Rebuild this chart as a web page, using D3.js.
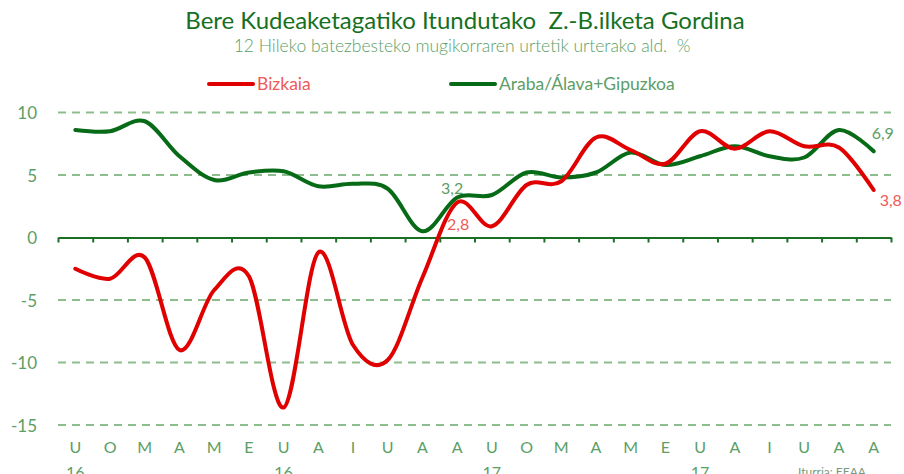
<!DOCTYPE html>
<html>
<head>
<meta charset="utf-8">
<script src="https://cdn.jsdelivr.net/npm/d3@7"></script>
<style>
  body { margin: 0; background: #fff; }
  svg { font-family: Lato, 'Open Sans', sans-serif; }
  .grid line { stroke: #8dbd8d; stroke-width: 2; stroke-dasharray: 8 6; }
  .ylab text { fill: #5b9e66; font-size: 17px; }
  .xlab { fill: #5b9e66; font-size: 16px; }
</style>
</head>
<body>
<svg width="904" height="474"></svg>
<script>
const months = ['U', 'O', 'M', 'A', 'M', 'E', 'U', 'A', 'I', 'U', 'A', 'A',
  'U', 'O', 'M', 'A', 'M', 'E', 'U', 'A', 'I', 'U', 'A', 'A'];
const years = ['16', '', '', '', '', '', '16', '', '', '', '', '',
  '17', '', '', '', '', '', '17', '', '', '', '', ''];
const bizkaia = [-2.5, -3.3, -1.6, -9.0, -4.2, -3.1, -13.6, -1.2, -8.6, -9.8, -3.2, 2.8,
  0.9, 4.2, 4.5, 8.0, 7.0, 5.9, 8.5, 7.1, 8.5, 7.3, 7.2, 3.8];
const arabaGipuzkoa = [8.6, 8.5, 9.3, 6.5, 4.6, 5.2, 5.3, 4.1, 4.3, 3.9, 0.5, 3.2,
  3.4, 5.2, 4.8, 5.2, 6.8, 5.8, 6.5, 7.3, 6.5, 6.4, 8.6, 6.9];
const yTicks = [-15, -10, -5, 0, 5, 10];

const svg = d3.select('svg');

const left = 58, right = 891;

const x = d3.scaleBand()
  .domain(d3.range(months.length))
  .range([left, right]);

const xEdge = d3.scaleLinear()
  .domain([0, months.length])
  .range([left, right]);

const y = d3.scaleLinear()
  .domain([-15, 10])
  .range([425, 112.5]);

const cx = (i) => x(i) + x.bandwidth() / 2;
const fmt = (v) => d3.format('.1f')(v).replace('.', ',');

// titles
svg.append('text')
  .attr('x', 465).attr('y', 29)
  .attr('text-anchor', 'middle')
  .attr('fill', '#17701f')
  .style('font-size', '24px')
  .style('white-space', 'pre')
  .text('Bere Kudeaketagatiko Itundutako  Z.-B.ilketa Gordina');

svg.append('text')
  .attr('x', 462).attr('y', 52)
  .attr('text-anchor', 'middle')
  .attr('fill', '#5b9e66')
  .style('font-size', '17.5px')
  .style('font-weight', 300)
  .style('white-space', 'pre')
  .text('12 Hileko batezbesteko mugikorraren urtetik urterako ald.  %');

// legend
const legend = [
  { name: 'Bizkaia', color: '#e00000', text: '#ee5a5a', x: 209 },
  { name: 'Araba/Álava+Gipuzkoa', color: '#076a16', text: '#5b9e66', x: 451 }
];
legend.forEach((l) => {
  svg.append('line')
    .attr('x1', l.x).attr('x2', l.x + 44)
    .attr('y1', 84).attr('y2', 84)
    .attr('stroke', l.color).attr('stroke-width', 4)
    .attr('stroke-linecap', 'round');
  svg.append('text')
    .attr('x', l.x + 48).attr('y', 90)
    .attr('fill', l.text)
    .style('font-size', '17.5px')
    .text(l.name);
});

// dashed grid
svg.append('g')
  .attr('class', 'grid')
  .selectAll('line')
  .data(yTicks.filter((d) => d !== 0))
  .enter()
  .append('line')
  .attr('x1', left).attr('x2', right)
  .attr('y1', (d) => y(d)).attr('y2', (d) => y(d));

// y labels
svg.append('g')
  .attr('class', 'ylab')
  .attr('transform', `translate(${left - 18}, 0)`)
  .call(d3.axisLeft(y).tickValues(yTicks).tickSize(0).tickFormat((d) => String(d)))
  .call((g) => g.select('.domain').remove())
  .selectAll('text')
  .attr('dy', '0.36em')
  .style('font-family', 'Lato, sans-serif');

// x axis at zero
svg.append('g')
  .attr('transform', `translate(0, ${y(0)})`)
  .call(d3.axisBottom(xEdge).tickValues(d3.range(months.length + 1)).tickSize(5).tickSizeOuter(0).tickFormat(''))
  .call((g) => g.selectAll('line, path').attr('stroke', '#1b6e22').attr('stroke-width', 2));

// month / year labels
svg.append('g')
  .selectAll('text')
  .data(months)
  .enter()
  .append('text')
  .attr('class', 'xlab')
  .attr('x', (d, i) => cx(i))
  .attr('y', 453)
  .attr('text-anchor', 'middle')
  .text((d) => d);

svg.append('g')
  .selectAll('text')
  .data(years)
  .enter()
  .append('text')
  .attr('class', 'xlab')
  .attr('x', (d, i) => cx(i))
  .attr('y', 478)
  .attr('text-anchor', 'middle')
  .text((d) => d);

svg.append('text')
  .attr('x', 832).attr('y', 476)
  .attr('text-anchor', 'middle')
  .attr('fill', '#7a9a80')
  .style('font-size', '12px')
  .text('Iturria: EEAA');

// lines
const line = d3.line()
  .x((d, i) => cx(i))
  .y((d) => y(d))
  .curve(d3.curveCardinal.tension(0));

svg.append('path')
  .datum(arabaGipuzkoa)
  .attr('d', line)
  .attr('fill', 'none')
  .attr('stroke', '#076a16')
  .attr('stroke-width', 4)
  .attr('stroke-linecap', 'round');

svg.append('path')
  .datum(bizkaia)
  .attr('d', line)
  .attr('fill', 'none')
  .attr('stroke', '#e00000')
  .attr('stroke-width', 4)
  .attr('stroke-linecap', 'round');

// data labels
const n = months.length - 1;
svg.append('text')
  .attr('x', cx(11) - 5).attr('y', y(arabaGipuzkoa[11]) - 4)
  .attr('text-anchor', 'middle')
  .attr('fill', '#5b9e66').style('font-size', '16px')
  .text(fmt(arabaGipuzkoa[11]));

svg.append('text')
  .attr('x', cx(11) + 1).attr('y', y(bizkaia[11]) + 27)
  .attr('text-anchor', 'middle')
  .attr('fill', '#ee5a5a').style('font-size', '16px')
  .text(fmt(bizkaia[11]));

svg.append('text')
  .attr('x', cx(n) - 2).attr('y', y(arabaGipuzkoa[n]) - 12)
  .attr('fill', '#5b9e66').style('font-size', '16px')
  .text(fmt(arabaGipuzkoa[n]));

svg.append('text')
  .attr('x', cx(n) + 6).attr('y', y(bizkaia[n]) + 16)
  .attr('fill', '#ee5a5a').style('font-size', '16px')
  .text(fmt(bizkaia[n]));
</script>
</body>
</html>
